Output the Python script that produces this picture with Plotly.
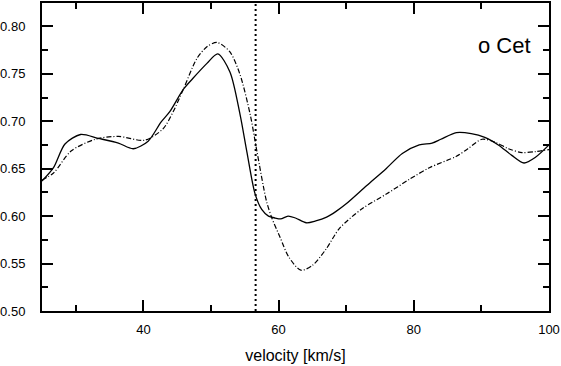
import plotly.graph_objects as go

# solid profile
vel_solid = [25, 26.7, 28.4, 30.7, 33.3, 36.3, 38.5, 40.7, 42.6, 43.9, 45.9, 47.3, 49.4,
             51.0, 52.8, 54.3, 55.3, 56.5, 57.5, 58.5, 59.5, 60.3, 61.4, 62.5, 64.1, 65.5,
             67.1, 68.5, 70.0, 73.0, 75.9, 78.3, 80.8, 82.7, 84.0, 86.3, 88.5, 90.5,
             92.5, 94.5, 96.3, 98.0, 100]
flux_solid = [0.637, 0.651, 0.676, 0.686, 0.682, 0.677, 0.671, 0.679, 0.699, 0.710, 0.7335,
              0.745, 0.761, 0.771, 0.752, 0.707, 0.668, 0.624, 0.607, 0.600, 0.598, 0.597,
              0.600, 0.598, 0.593, 0.595, 0.599, 0.605, 0.613, 0.632, 0.650, 0.666, 0.675,
              0.677, 0.681, 0.688, 0.687, 0.683, 0.675, 0.664, 0.656, 0.662, 0.675]

# dash-dot profile
vel_dd = [25, 26.7, 29.3, 32.9, 36.3, 40.2, 42.9, 44.4, 45.9, 47.9, 49.4, 50.9, 52.8,
          54.3, 55.8, 56.8, 58.2, 59.0, 60.2, 61.5, 63.3, 65.0, 67.0, 69.0, 72.4, 76.0,
          79.4, 82.3, 86.3, 88.0, 90.1, 92.0, 94.0, 96.0, 98.0, 100]
flux_dd = [0.638, 0.6455, 0.6686, 0.681, 0.684, 0.680, 0.692, 0.710, 0.7335, 0.766, 0.7785,
           0.783, 0.773, 0.749, 0.707, 0.668, 0.616, 0.598, 0.578, 0.557, 0.543, 0.548,
           0.565, 0.587, 0.608, 0.6235, 0.639, 0.651, 0.663, 0.671, 0.681, 0.678, 0.671,
           0.667, 0.668, 0.670]

v_mark = 56.6
y_range = [0.50, 0.8246]
star_name = "o Cet"

fig = go.Figure()
fig.add_trace(go.Scatter(x=vel_dd, y=flux_dd, mode="lines",
                         line=dict(color="black", width=1.2, dash="5px,2px,1px,2px",
                                   shape="spline", smoothing=0.8)))
fig.add_trace(go.Scatter(x=vel_solid, y=flux_solid, mode="lines",
                         line=dict(color="black", width=1.3, shape="spline", smoothing=0.8)))
# marker velocity as a vertical dotted line
fig.add_trace(go.Scatter(x=[v_mark, v_mark], y=y_range, mode="lines",
                         line=dict(color="black", width=2, dash="2px,3px")))

fig.add_annotation(text=star_name, xref="paper", yref="paper", x=0.9685, y=0.862,
                   xanchor="right", yanchor="middle", showarrow=False,
                   font=dict(family="Liberation Sans, Arial", size=22, color="black"))

axis_common = dict(showline=True, linecolor="#000000", linewidth=2, mirror="ticks",
                   ticks="inside", ticklen=11, tickwidth=2, tickcolor="#000000",
                   showgrid=False, zeroline=False,
                   tickfont=dict(family="Liberation Sans, Arial", size=13, color="black"))

fig.update_xaxes(range=[25, 100], dtick=20, tick0=0, ticklabelstandoff=5,
                 minor=dict(ticks="inside", ticklen=6, tickwidth=2, tickcolor="#000000", dtick=10),
                 title=dict(text="velocity [km/s]", standoff=14,
                            font=dict(family="Liberation Sans, Arial", size=16, color="black")),
                 **axis_common)
fig.update_yaxes(range=y_range, dtick=0.05, tick0=0.5, tickformat=".2f", ticklabelstandoff=12,
                 automargin=False,
                 minor=dict(ticks="inside", ticklen=6, tickwidth=2, tickcolor="#000000", dtick=0.025),
                 **axis_common)

fig.update_layout(width=561, height=366, showlegend=False,
                  plot_bgcolor="white", paper_bgcolor="white",
                  margin=dict(l=42, r=11, t=1, b=55))

fig.write_html("out.html", post_script="document.body.style.margin='0';",
               config={"displayModeBar": False})
